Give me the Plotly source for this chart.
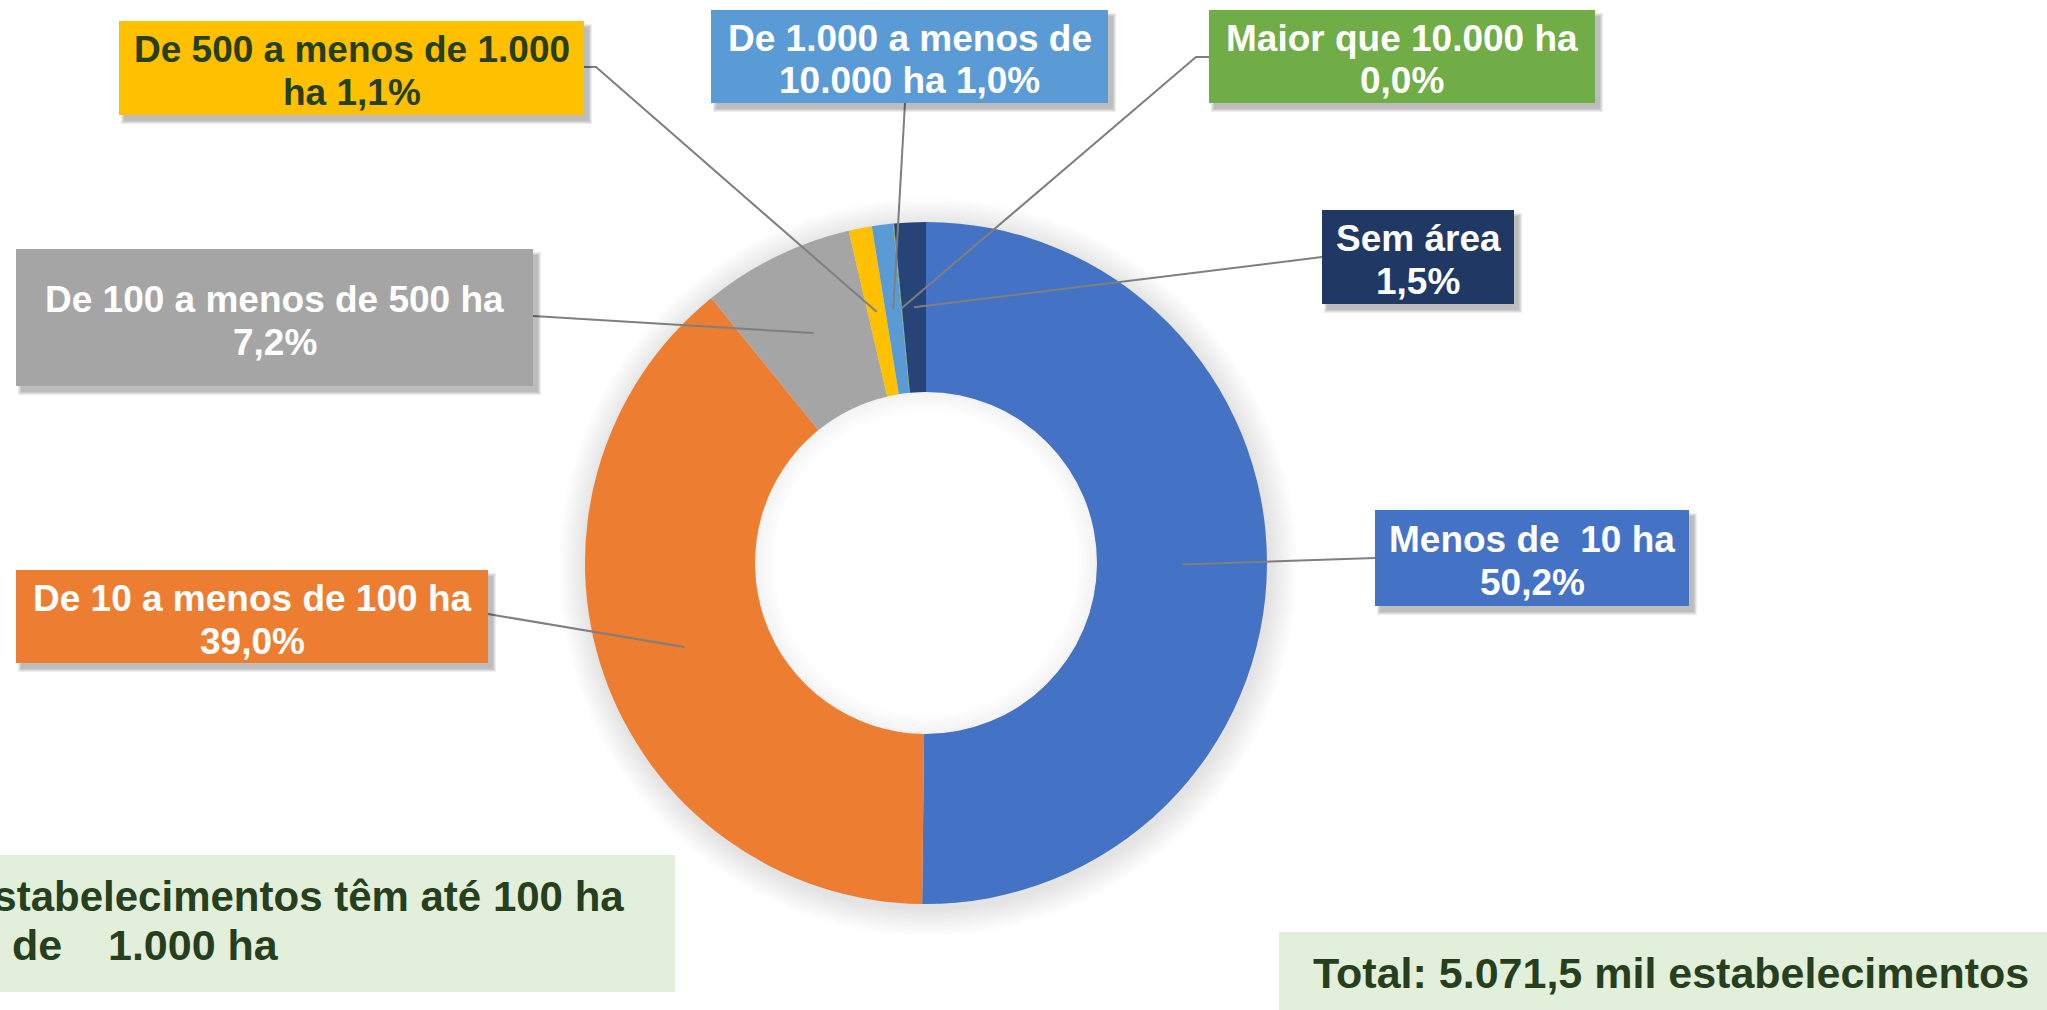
import math
import plotly.graph_objects as go

# ---------------- data ----------------
categories = ["Menos de 10 ha", "De 10 a menos de 100 ha", "De 100 a menos de 500 ha",
              "De 500 a menos de 1.000 ha", "De 1.000 a menos de 10.000 ha",
              "Maior que 10.000 ha", "Sem área"]
shares = [50.2, 39.0, 7.2, 1.1, 1.0, 0.04, 1.5]
slice_colors = ["#4472C4", "#ED7D31", "#A5A5A5", "#FFC000", "#5B9BD5", "#70AD47", "#264478"]
box_colors = ["#4472C4", "#ED7D31", "#A5A5A5", "#FFC000", "#5B9BD5", "#70AD47", "#203864"]
text_colors = ["white", "white", "white", "#263F1D", "white", "white", "white"]
label_lines = [("Menos de\u00a0 10 ha", "{p}"), ("De 10 a menos de 100 ha", "{p}"),
               ("De 100 a menos de 500 ha", "{p}"), ("De 500 a menos de 1.000", "ha {p}"),
               ("De 1.000 a menos de", "10.000 ha {p}"), ("Maior que 10.000 ha", "{p}"),
               ("Sem área", "{p}")]
note_left_1 = "estabelecimentos têm até 100 ha"
note_left_2a = "de"
note_left_2b = "1.000 ha"
note_right = "Total: 5.071,5 mil estabelecimentos"

# ---------------- layout (pixels) ----------------
W, H = 2047, 1010
CX, CY, R_OUT, R_IN = 926, 563, 341, 171
boxes = [(1375, 510, 1689, 606), (16, 570, 488, 663), (16, 249, 533, 386),
         (119, 21, 584, 115), (711, 10, 1108, 103), (1209, 10, 1595, 103),
         (1322, 210, 1514, 304)]
line_starts = [[(1375, 558)], [(488, 614)], [(533, 316)], [(584, 67), (596, 67)],
               [(905, 103)], [(1209, 57), (1196, 57)], [(1322, 257)]]


def px(x):
    return x / W


def py(y):
    return 1 - y / H


fig = go.Figure()
fig.add_trace(go.Pie(
    labels=categories, values=shares, sort=False, direction="clockwise", rotation=0,
    hole=R_IN / R_OUT, marker=dict(colors=slice_colors, line=dict(width=0)),
    textinfo="none", hoverinfo="label+percent", showlegend=False,
    domain=dict(x=[px(CX - R_OUT), px(CX + R_OUT)], y=[py(CY + R_OUT), py(CY - R_OUT)]),
))

shapes = []
# soft shadow around the donut
for k in range(14):
    r = R_OUT + 2 + 2 * k
    shapes.append(dict(type="circle", xref="paper", yref="paper", layer="below",
                       x0=px(CX + 2 - r), x1=px(CX + 2 + r), y0=py(CY + 4 + r), y1=py(CY + 4 - r),
                       fillcolor="rgba(0,0,0,0.008)", line=dict(width=0)))
shapes.append(dict(type="circle", xref="paper", yref="paper", layer="below",
                   x0=px(CX - R_IN), x1=px(CX + R_IN), y0=py(CY + R_IN), y1=py(CY - R_IN),
                   fillcolor="white", line=dict(width=0)))
for k in range(10):
    r = R_IN - 1 - 2 * k
    a = 0.05 * (1 - k / 10)
    shapes.append(dict(type="circle", xref="paper", yref="paper", layer="above",
                       x0=px(CX - r), x1=px(CX + r), y0=py(CY + r), y1=py(CY - r),
                       fillcolor="rgba(0,0,0,0)", line=dict(width=2, color=f"rgba(0,0,0,{a:.3f})")))

# leader lines, anchored at the middle of each slice
total = sum(shares)
cum = 0.0
R_MID = (R_OUT + R_IN) / 2
for i, v in enumerate(shares):
    mid = (cum + v / 2) / total * 2 * math.pi
    cum += v
    ax = CX + R_MID * math.sin(mid)
    ay = CY - R_MID * math.cos(mid)
    pts = line_starts[i] + [(ax, ay)]
    path = "M " + " L ".join(f"{px(x):.5f},{py(y):.5f}" for x, y in pts)
    shapes.append(dict(type="path", xref="paper", yref="paper", layer="above", path=path,
                       line=dict(color="#7F7F7F", width=2)))

annotations = []


def add_box(x0, y0, x1, y1, color, shadow=True):
    if shadow:
        for k in range(4):
            shapes.append(dict(type="rect", xref="paper", yref="paper", layer="above",
                               x0=px(x0 + 5 - k), x1=px(x1 + 5 + k), y0=py(y1 + 6 + k), y1=py(y0 + 6 - k),
                               fillcolor="rgba(0,0,0,0.07)", line=dict(width=0)))
    shapes.append(dict(type="rect", xref="paper", yref="paper", layer="above",
                       x0=px(x0), x1=px(x1), y0=py(y1), y1=py(y0),
                       fillcolor=color, line=dict(width=0)))


FONT = "Liberation Sans, Arial, sans-serif"
for i, (x0, y0, x1, y1) in enumerate(boxes):
    add_box(x0, y0, x1, y1, box_colors[i])
    pct = f"{shares[i]:.1f}".replace(".", ",") + "%"
    xc = (x0 + x1) / 2
    yc = (y0 + y1) / 2 + 3
    for j, ln in enumerate(label_lines[i]):
        annotations.append(dict(x=px(xc), y=py(yc + (j - 0.5) * 43), xref="paper", yref="paper",
                                text="<b>" + ln.format(p=pct) + "</b>", showarrow=False,
                                xanchor="center", yanchor="middle",
                                font=dict(family=FONT, size=37, color=text_colors[i])))

# note boxes
add_box(0, 855, 675, 992, "#E2EFDA", shadow=False)
add_box(1279, 932, 2047, 1010, "#E2EFDA", shadow=False)
NOTE_FONT = dict(family=FONT, size=43, color="#263F1D")
NOTE_FONT_L1 = dict(family=FONT, size=42, color="#263F1D")
for txt, x, anchor, yc, fnt in [(note_left_1, 626, "right", 896, NOTE_FONT_L1),
                                (note_left_2b, 281, "right", 945, NOTE_FONT),
                                (note_left_2a, 10, "left", 945, NOTE_FONT)]:
    annotations.append(dict(x=px(x), y=py(yc), xref="paper", yref="paper", text="<b>" + txt + "</b>",
                            showarrow=False, xanchor=anchor, yanchor="middle", font=fnt))
annotations.append(dict(x=px(1671), y=py(973), xref="paper", yref="paper", text="<b>" + note_right + "</b>",
                        showarrow=False, xanchor="center", yanchor="middle", font=NOTE_FONT))

fig.update_layout(width=W, height=H, margin=dict(l=0, r=0, t=0, b=0),
                  paper_bgcolor="white", plot_bgcolor="white",
                  shapes=shapes, annotations=annotations, showlegend=False)

fig.write_html("out.html", config={"displayModeBar": False},
               post_script="document.body.style.margin='0px';document.body.style.overflow='hidden';")
